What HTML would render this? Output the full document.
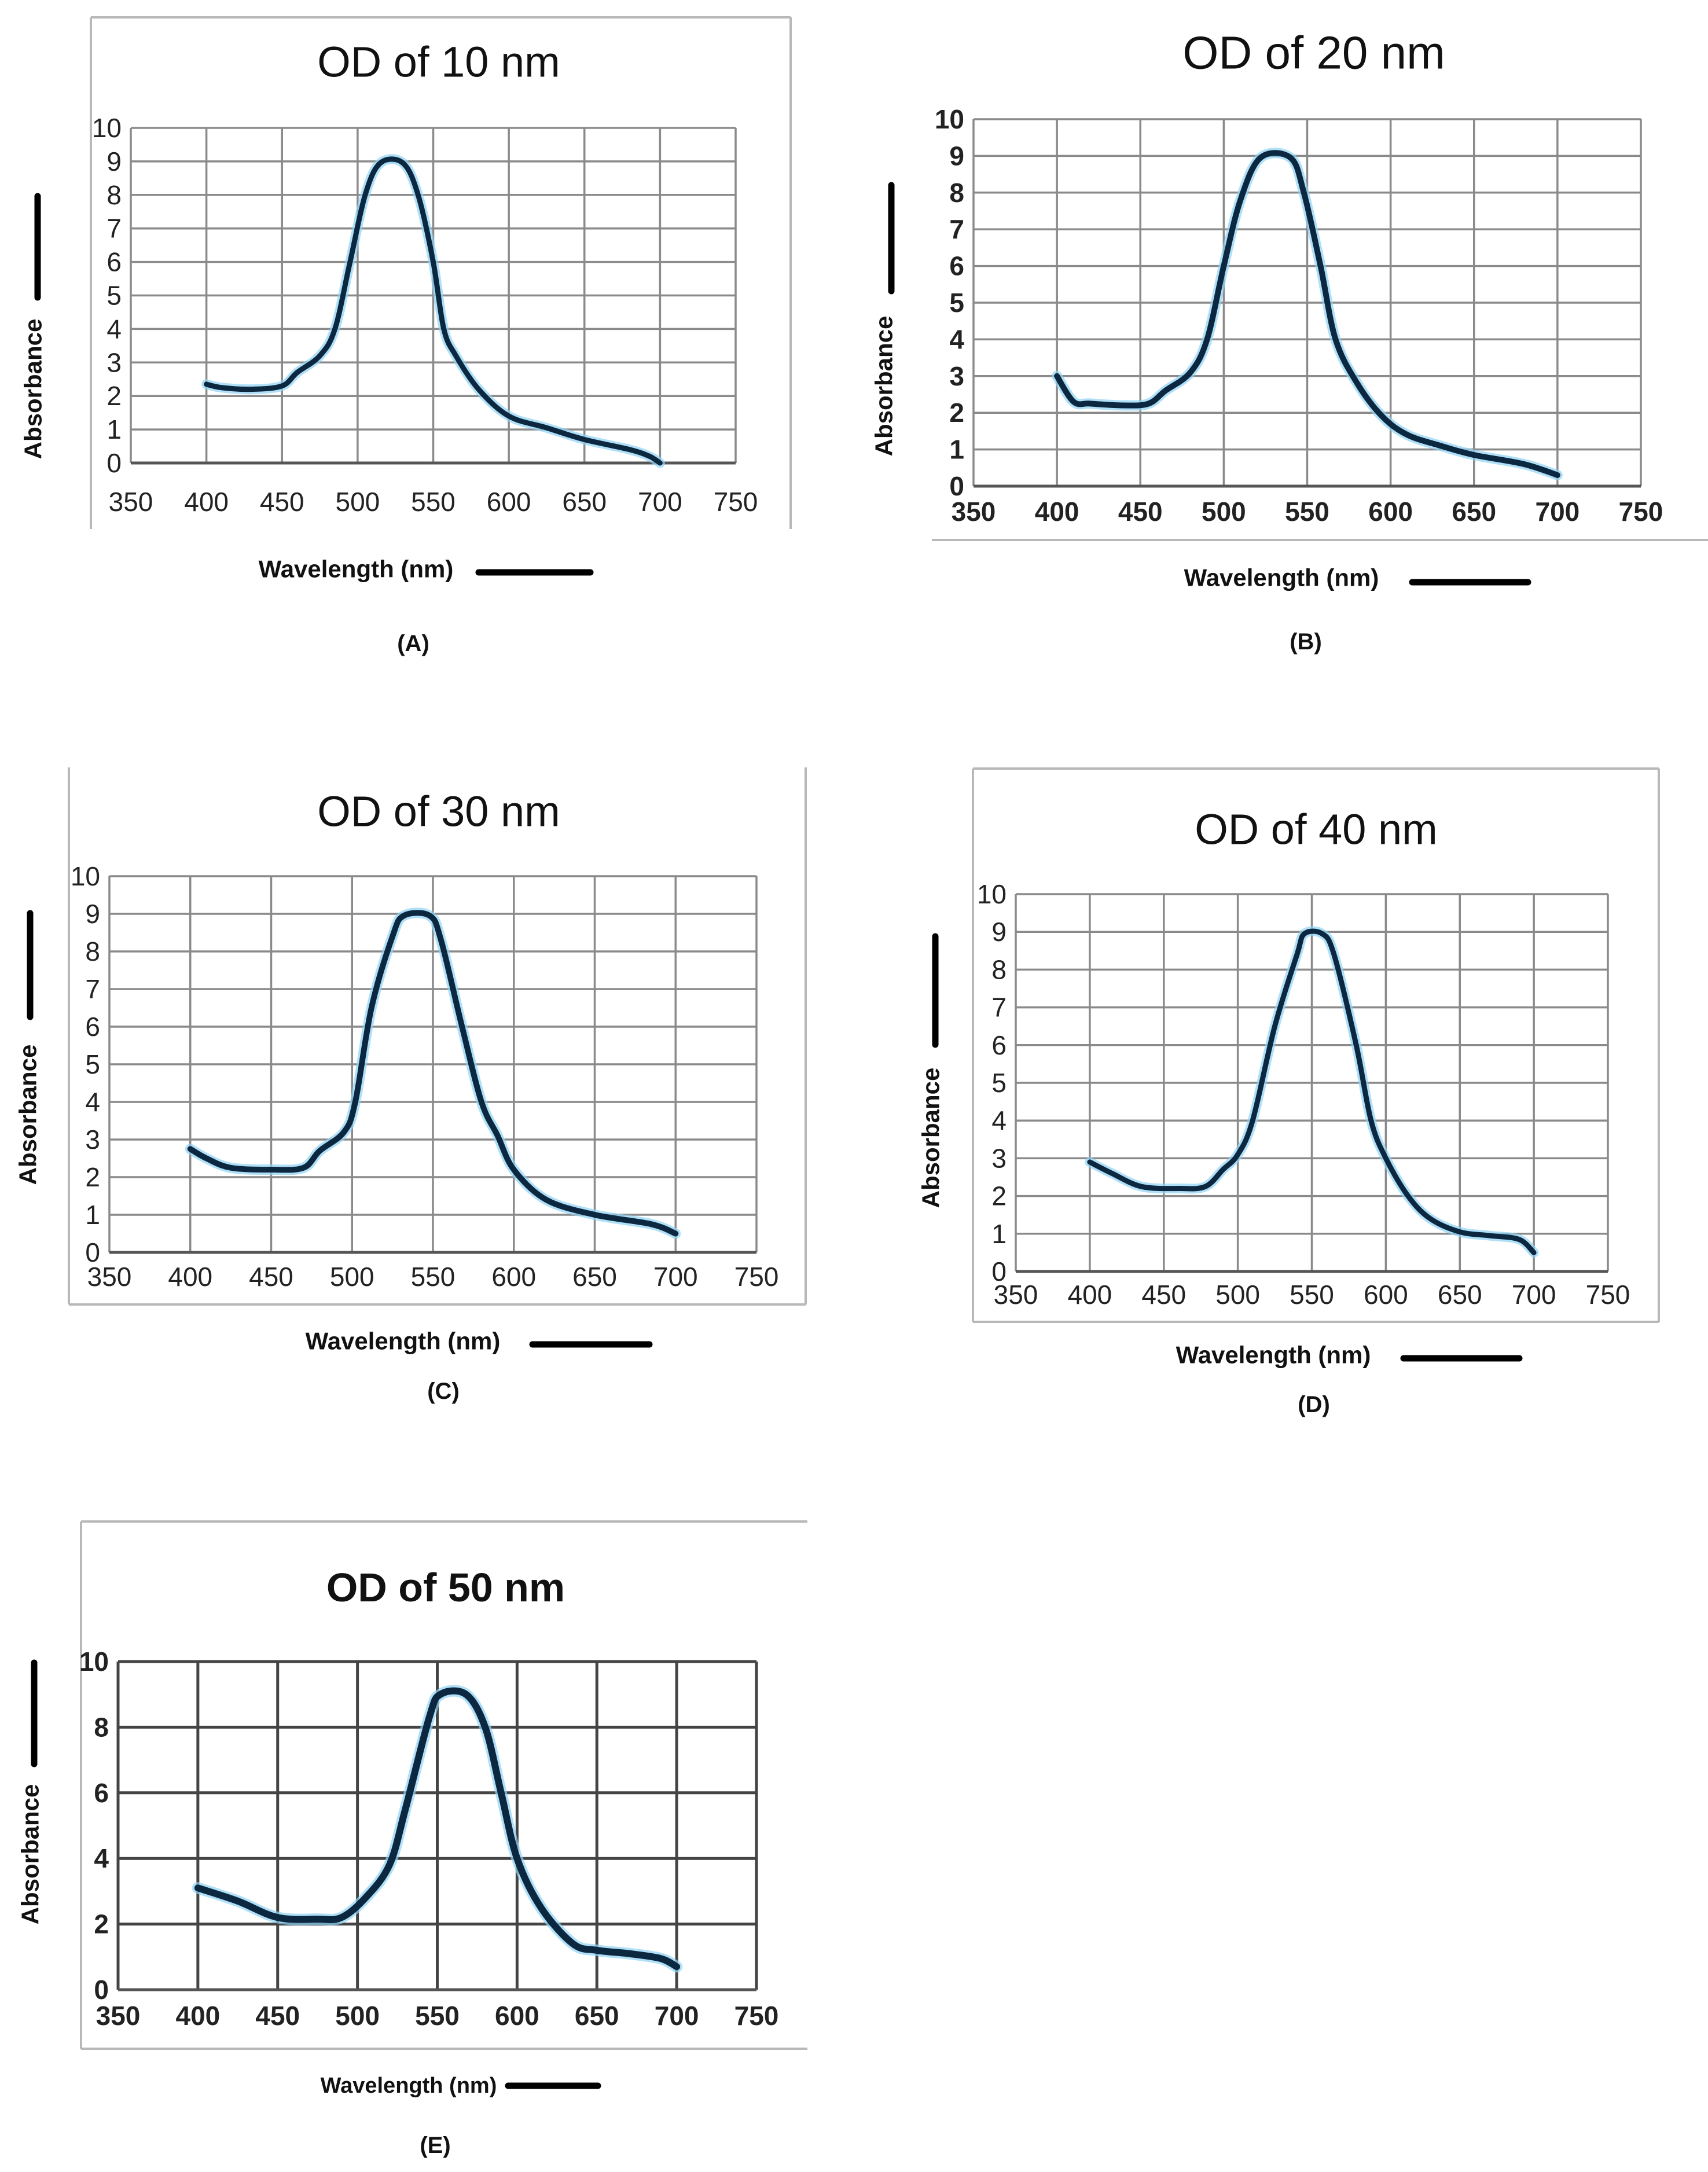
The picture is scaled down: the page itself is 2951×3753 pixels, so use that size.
<!DOCTYPE html>
<html><head><meta charset="utf-8"><style>
html,body{margin:0;padding:0;background:#fff;}
svg{display:block;font-family:"Liberation Sans",sans-serif;}
</style></head><body>
<svg id="fig" width="2951" height="3753" viewBox="0 0 2951 3753" xmlns="http://www.w3.org/2000/svg"></svg>
<script>
const xTicks = [350,400,450,500,550,600,650,700,750];
const yTicksFull = [0,1,2,3,4,5,6,7,8,9,10];
const yTicksEven = [0,2,4,6,8,10];
const titles = ["OD of 10 nm","OD of 20 nm","OD of 30 nm","OD of 40 nm","OD of 50 nm"];
const panelLetters = ["(A)","(B)","(C)","(D)","(E)"];
const wlA = [400,410,430,450,460,475,485,495,505,515,530,540,550,557,565,580,600,625,650,680,693,700];
const absA = [2.35,2.25,2.2,2.3,2.7,3.2,4,6,8,8.95,8.95,8,6,4,3.2,2.2,1.4,1.05,0.7,0.4,0.2,0];
const wlB = [400,410,420,440,455,465,480,490,500,510,522,540,548,558,567,580,595,610,630,650,680,700];
const absB = [3,2.3,2.25,2.2,2.25,2.6,3.1,4,6,7.8,8.95,8.95,8,6,4,2.8,1.9,1.4,1.1,0.85,0.6,0.3];
const wlC = [400,410,425,450,470,480,495,502,512,525,532,548,555,568,580,590,600,620,650,685,700];
const absC = [2.75,2.5,2.25,2.2,2.25,2.7,3.2,4,6.5,8.4,8.95,8.95,8.3,6,4,3.1,2.2,1.4,1.0,0.75,0.5];
const wlD = [400,415,435,460,478,490,500,510,525,540,545,557,565,580,590,600,615,630,650,670,690,700];
const absD = [2.9,2.6,2.25,2.2,2.25,2.7,3.1,4,6.5,8.4,8.95,8.95,8.4,6,4,3.0,2.0,1.4,1.05,0.95,0.85,0.5];
const wlE = [400,425,450,475,490,505,520,530,545,552,568,580,590,600,615,635,650,670,690,700];
const absE = [3.1,2.7,2.2,2.15,2.2,2.8,3.8,5.5,8.3,9.0,9.0,8,6,4,2.5,1.4,1.2,1.1,0.95,0.7];

const NS="http://www.w3.org/2000/svg";
const svg=document.getElementById('fig');
function mk(tag,attrs,parent,text){const e=document.createElementNS(NS,tag);for(const k in attrs)e.setAttribute(k,attrs[k]);if(text!==undefined)e.textContent=text;(parent||svg).appendChild(e);return e;}

const panels=[
 {wl:wlA,ab:absA,yt:yTicksFull,pl:226,pr:1271,pt:221,pb:800,frame:[157,30,1366,914,'lrt'],tx:758,ty:107,tfs:74,tw:'normal',bold:false,ay:672,ax:57,bar:[65,339,514],wlx:615,wly:983,wfs:42,hb:[827,1020,989],lx:714,ly:1112,xly:867,sw:9},
 {wl:wlB,ab:absB,yt:yTicksFull,pl:1682,pr:2835,pt:206,pb:840,frame:[1610,0,2951,933,'b'],tx:2270,ty:91,tfs:80,tw:'normal',bold:true,ay:667,ax:1527,bar:[1540,320,503],wlx:2214,wly:998,wfs:42,hb:[2440,2640,1006],lx:2256,ly:1109,xly:884,sw:10},
 {wl:wlC,ab:absC,yt:yTicksFull,pl:189,pr:1307,pt:1514,pb:2164,frame:[119,1326,1392,2254,'lrb'],tx:758,ty:1402,tfs:74,tw:'normal',bold:false,ay:1926,ax:48,bar:[52,1578,1757],wlx:696,wly:2317,wfs:42,hb:[920,1122,2323],lx:766,ly:2404,xly:2206,sw:10},
 {wl:wlD,ab:absD,yt:yTicksFull,pl:1755,pr:2778,pt:1545,pb:2197,frame:[1681,1328,2866,2284,'lrtb'],tx:2274,ty:1433,tfs:74,tw:'normal',bold:false,ay:1966,ax:1608,bar:[1616,1618,1805],wlx:2200,wly:2341,wfs:42,hb:[2425,2625,2347],lx:2270,ly:2427,xly:2237,sw:9},
 {wl:wlE,ab:absE,yt:yTicksEven,pl:204,pr:1307,pt:2871,pb:3438,frame:[140,2629,1395,3540,'ltb'],tx:770,ty:2743,tfs:70,tw:'bold',bold:true,ay:3204,ax:52,bar:[59,2873,3048],wlx:706,wly:3604,wfs:38,hb:[878,1033,3604],lx:752,ly:3707,xly:3483,sw:12}
];

function smoothPath(pts){
 let d=`M${pts[0][0]},${pts[0][1]}`;
 for(let i=0;i<pts.length-1;i++){
  const p0=pts[i-1]||pts[i],p1=pts[i],p2=pts[i+1],p3=pts[i+2]||p2;
  const c1=[p1[0]+(p2[0]-p0[0])/6,p1[1]+(p2[1]-p0[1])/6];
  const c2=[p2[0]-(p3[0]-p1[0])/6,p2[1]-(p3[1]-p1[1])/6];
  d+=` C${c1[0]},${c1[1]} ${c2[0]},${c2[1]} ${p2[0]},${p2[1]}`;
 }
 return d;
}

panels.forEach((p,i)=>{
 const g=mk('g',{});
 
 
 const xs=v=>p.pl+(v-350)/400*(p.pr-p.pl);
 const ys=v=>p.pb-v/10*(p.pb-p.pt);
 const [fl,ft,fr,fb,sides]=p.frame;
 const fg=mk('g',{stroke:'#b8b8b8','stroke-width':4},g);
 
 
 if(sides.includes('l'))mk('line',{x1:fl,y1:ft,x2:fl,y2:fb},fg);
 if(sides.includes('r'))mk('line',{x1:fr,y1:ft,x2:fr,y2:fb},fg);
 if(sides.includes('t'))mk('line',{x1:fl,y1:ft,x2:fr,y2:ft},fg);
 if(sides.includes('b'))mk('line',{x1:fl,y1:fb,x2:fr,y2:fb},fg);
 const t=mk('text',{x:p.tx,y:p.ty,'text-anchor':'middle','dominant-baseline':'central','font-size':p.tfs,'font-weight':p.tw,fill:'#111'},g,titles[i]);
 
 
 const gg=mk('g',{stroke:i==4?'#444':'#8a8a8a','stroke-width':i==4?5:3.5},g);
 
 
 xTicks.forEach(v=>mk('line',{x1:xs(v),y1:p.pt,x2:xs(v),y2:p.pb},gg));
 p.yt.forEach(v=>mk('line',{x1:p.pl,y1:ys(v),x2:p.pr,y2:ys(v)},gg));
 mk('line',{x1:p.pl,y1:p.pb,x2:p.pr,y2:p.pb,stroke:'#555','stroke-width':5},gg);
 const fw=p.bold?'bold':'normal';
 xTicks.forEach(v=>{const e=mk('text',{x:xs(v),y:p.xly,'text-anchor':'middle','dominant-baseline':'central','font-size':46,'font-weight':fw,fill:'#222'},g,v);
  
  });
 p.yt.forEach(v=>{const e=mk('text',{x:p.pl-16,y:ys(v),'text-anchor':'end','dominant-baseline':'central','font-size':46,'font-weight':fw,fill:'#222'},g,v);
  
  });
 const pts=p.wl.map((w,k)=>[xs(w),ys(p.ab[k])]);
 const d=smoothPath(pts);
 const glow=mk('path',{d:d,fill:'none',stroke:'#8fd3f5','stroke-width':p.sw+8,'stroke-linecap':'round','stroke-linejoin':'round',opacity:0.7},g);
 
 
 const line=mk('path',{d:d,fill:'none',stroke:'#0c2840','stroke-width':p.sw,'stroke-linecap':'round','stroke-linejoin':'round'},g);
 
 
 const ya=mk('text',{x:p.ax,y:p.ay,'text-anchor':'middle','dominant-baseline':'central','font-size':42,'font-weight':'bold',fill:'#111',transform:`rotate(-90 ${p.ax} ${p.ay})`},g,'Absorbance');
 
 
 const vb=mk('line',{x1:p.bar[0],y1:p.bar[1],x2:p.bar[0],y2:p.bar[2],stroke:'#000','stroke-width':11,'stroke-linecap':'round'},g);
 
 
 const xa=mk('text',{x:p.wlx,y:p.wly,'text-anchor':'middle','dominant-baseline':'central','font-size':p.wfs,'font-weight':'bold',fill:'#111'},g,'Wavelength (nm)');
 
 
 const hb=mk('line',{x1:p.hb[0],y1:p.hb[2],x2:p.hb[1],y2:p.hb[2],stroke:'#000','stroke-width':11,'stroke-linecap':'round'},g);
 
 
 const lt=mk('text',{x:p.lx,y:p.ly,'text-anchor':'middle','dominant-baseline':'central','font-size':40,'font-weight':'bold',fill:'#111'},g,panelLetters[i]);
 
 
});
</script>
</body></html>
